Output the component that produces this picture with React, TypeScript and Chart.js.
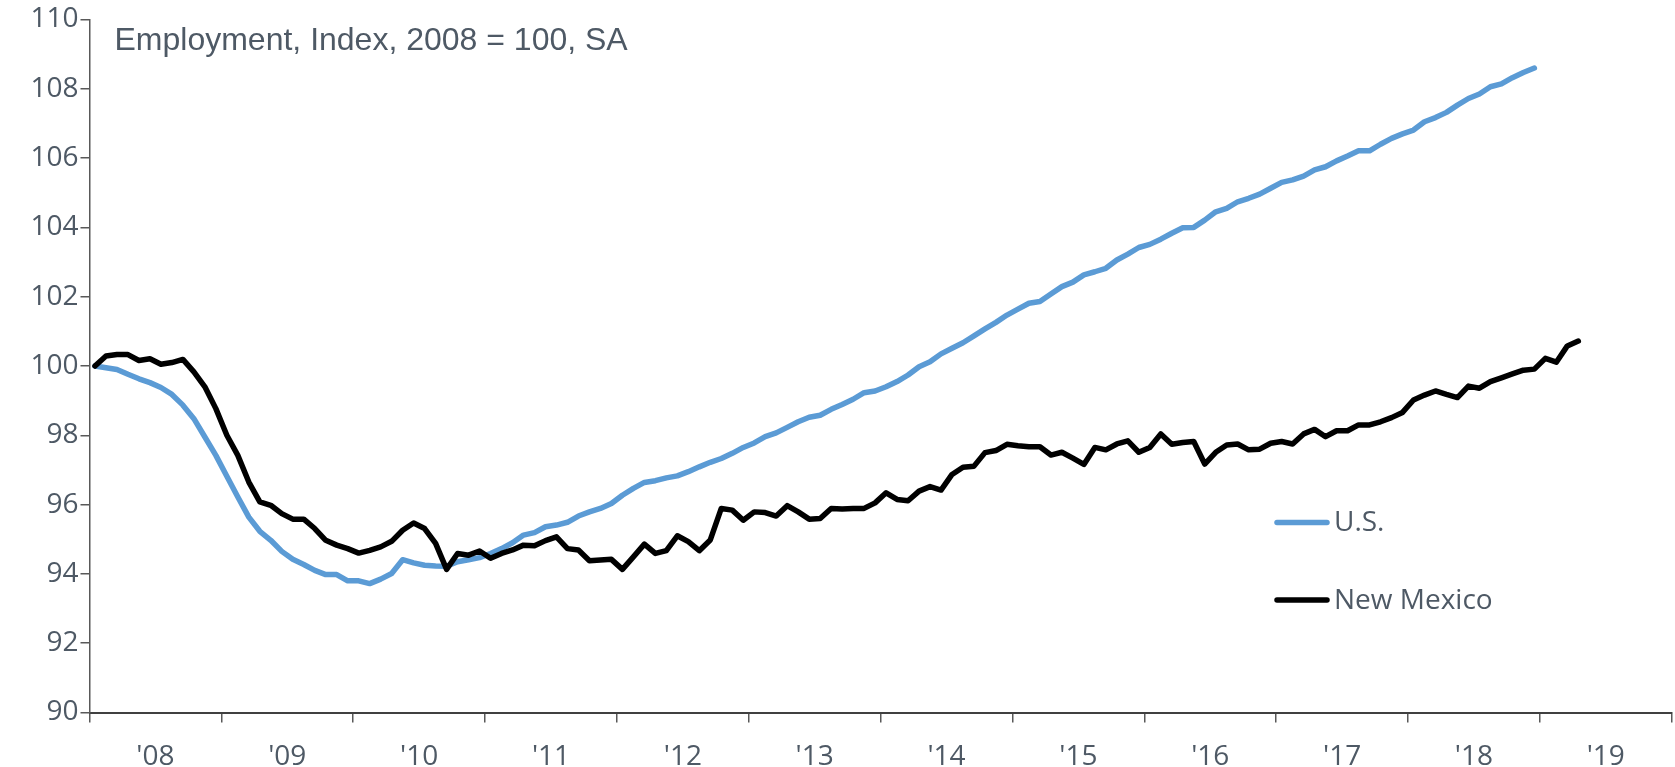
import React, { useEffect, useRef } from "react";
import { Chart, registerables } from "chart.js";

Chart.register(...registerables);

const yearLabels = ["'08", "'09", "'10", "'11", "'12", "'13", "'14", "'15", "'16", "'17", "'18", "'19"];
const seriesNames = ["U.S.", "New Mexico"];
const chartTitle = "Employment, Index, 2008 = 100, SA";

// Monthly index, Jan 2008 = 100
const usValues = [
  100.0, 99.95, 99.9, 99.76, 99.63, 99.52, 99.38, 99.18, 98.87, 98.48, 97.95, 97.42,
  96.82, 96.22, 95.64, 95.23, 94.97, 94.65, 94.42, 94.27, 94.1, 93.98, 93.98, 93.8,
  93.8, 93.72, 93.85, 94.01, 94.41, 94.32, 94.25, 94.23, 94.22, 94.35, 94.41, 94.47,
  94.59, 94.73, 94.9, 95.12, 95.19, 95.36, 95.41, 95.49, 95.67, 95.79, 95.89, 96.03,
  96.27, 96.47, 96.64, 96.69, 96.77, 96.83, 96.95, 97.09, 97.22, 97.33, 97.48, 97.65,
  97.78, 97.96, 98.07, 98.23, 98.39, 98.52, 98.58, 98.75, 98.89, 99.04, 99.23, 99.28,
  99.4, 99.55, 99.74, 99.98, 100.12, 100.35, 100.51, 100.67, 100.87, 101.07, 101.26, 101.47,
  101.64, 101.81, 101.86, 102.08, 102.29, 102.42, 102.63, 102.72, 102.82, 103.06, 103.23, 103.42,
  103.51, 103.66, 103.83, 103.99, 104.0, 104.21, 104.45, 104.55, 104.74, 104.84, 104.96, 105.13,
  105.3, 105.37, 105.48, 105.66, 105.75, 105.92, 106.06, 106.21, 106.21, 106.4, 106.57, 106.7,
  106.81, 107.05, 107.17, 107.32, 107.53, 107.72, 107.85, 108.06, 108.14, 108.32, 108.47, 108.6,
];

const nmValues = [
  100.0, 100.29, 100.33, 100.33, 100.16, 100.21, 100.05, 100.1, 100.19, 99.83, 99.4, 98.77,
  98.0, 97.42, 96.65, 96.08, 95.98, 95.74, 95.58, 95.58, 95.31, 94.97, 94.83, 94.73,
  94.6, 94.68, 94.78, 94.94, 95.26, 95.47, 95.31, 94.88, 94.13, 94.59, 94.54, 94.66,
  94.45, 94.59, 94.69, 94.83, 94.81, 94.96, 95.07, 94.73, 94.69, 94.38, 94.4, 94.42,
  94.13, 94.49, 94.86, 94.59, 94.67, 95.1, 94.93, 94.67, 94.98, 95.89, 95.84, 95.55,
  95.79, 95.77, 95.67, 95.97, 95.79, 95.58, 95.6, 95.89, 95.87, 95.89, 95.89, 96.05,
  96.34, 96.15, 96.11, 96.39, 96.52, 96.42, 96.87, 97.08, 97.11, 97.5, 97.56, 97.74,
  97.7, 97.67, 97.67, 97.43, 97.51, 97.34, 97.16, 97.65, 97.58, 97.75, 97.84, 97.51,
  97.65, 98.04, 97.74, 97.79, 97.82, 97.17, 97.51, 97.72, 97.75, 97.58, 97.6, 97.77,
  97.82, 97.75, 98.04, 98.17, 97.96, 98.13, 98.13, 98.3, 98.3, 98.39, 98.51, 98.66,
  99.02, 99.16, 99.28, 99.18, 99.09, 99.42, 99.36, 99.55, 99.66, 99.77, 99.88, 99.91,
  100.22, 100.11, 100.58, 100.72,
];

const yMin = 90;
const yMax = 110;
const yStep = 2;

const TEXT = "#4E5965";
const AXIS = "#595959";
const MONTHS = yearLabels.length * 12;

const toPoints = (vals: number[]) => vals.map((v, i) => ({ x: i, y: v }));

const titlePlugin = {
  id: "cornerTitle",
  afterDraw(chart: any) {
    const ctx = chart.ctx;
    ctx.save();
    ctx.font = "32px 'Liberation Sans', Arial, sans-serif";
    ctx.fillStyle = TEXT;
    ctx.textBaseline = "alphabetic";
    ctx.textAlign = "left";
    ctx.fillText(chartTitle, chart.chartArea.left + 25, 50);
    ctx.restore();
  },
};

const legendPlugin = {
  id: "insideLegend",
  afterDraw(chart: any) {
    const ctx = chart.ctx;
    const rows = [522.5, 600];
    ctx.save();
    ctx.font = "28px 'Open Sans', sans-serif";
    ctx.textBaseline = "middle";
    ctx.textAlign = "left";
    chart.data.datasets.forEach((ds: any, k: number) => {
      const y = rows[k];
      ctx.strokeStyle = ds.borderColor;
      ctx.lineWidth = 5.5;
      ctx.lineCap = "round";
      ctx.beginPath();
      ctx.moveTo(1277, y);
      ctx.lineTo(1327, y);
      ctx.stroke();
      ctx.fillStyle = TEXT;
      ctx.fillText(ds.label, 1334, y + 1);
    });
    ctx.restore();
  },
};

export default function App() {
  const ref = useRef<HTMLCanvasElement>(null);

  useEffect(() => {
    const canvas = ref.current;
    if (!canvas) return;
    const chart = new Chart(canvas, {
      type: "line",
      data: {
        datasets: [
          {
            label: seriesNames[0],
            data: toPoints(usValues),
            borderColor: "#5B9BD5",
            backgroundColor: "#5B9BD5",
            borderWidth: 5.5,
            pointRadius: 0,
            tension: 0,
            borderJoinStyle: "round",
            borderCapStyle: "round",
            order: 1,
          },
          {
            label: seriesNames[1],
            data: toPoints(nmValues),
            borderColor: "#000000",
            backgroundColor: "#000000",
            borderWidth: 5.5,
            pointRadius: 0,
            tension: 0,
            borderJoinStyle: "round",
            borderCapStyle: "round",
            order: 0,
          },
        ],
      },
      options: {
        animation: false,
        responsive: false,
        events: [],
        layout: { padding: { top: 19.5, right: 3.3, bottom: 0, left: 0 } },
        plugins: {
          legend: { display: false },
          tooltip: { enabled: false },
          title: { display: false },
        },
        scales: {
          x: {
            type: "linear",
            position: "bottom",
            min: -0.5,
            max: MONTHS - 0.5,
            weight: 0,
            afterBuildTicks: (scale: any) => {
              scale.ticks = yearLabels
                .concat([""])
                .map((_, k) => ({ value: k * 12 - 0.5 }));
            },
            ticks: { display: false },
            grid: {
              drawOnChartArea: false,
              drawTicks: true,
              tickLength: 10,
              color: AXIS,
              tickColor: AXIS,
              lineWidth: 1.5,
            },
            border: { display: true, color: "#404040", width: 2 },
          },
          x2: {
            type: "linear",
            position: "bottom",
            min: -0.5,
            max: MONTHS - 0.5,
            weight: 1,
            afterBuildTicks: (scale: any) => {
              scale.ticks = yearLabels.map((_, k) => ({ value: k * 12 + 5.5 }));
            },
            afterFit: (scale: any) => {
              scale.height = 44.5;
            },
            ticks: {
              autoSkip: false,
              maxRotation: 0,
              minRotation: 0,
              padding: 18,
              color: TEXT,
              font: { family: "'Open Sans', sans-serif", size: 28 },
              callback: (_v: any, index: number) => yearLabels[index],
            },
            grid: { display: false, drawTicks: false },
            border: { display: false },
          },
          y: {
            type: "linear",
            min: yMin,
            max: yMax,
            afterFit: (scale: any) => {
              scale.width = 89.5;
            },
            ticks: {
              stepSize: yStep,
              padding: 2,
              color: TEXT,
              font: { family: "'Open Sans', sans-serif", size: 28 },
            },
            grid: {
              drawOnChartArea: false,
              drawTicks: true,
              tickLength: 9,
              color: AXIS,
              tickColor: AXIS,
              lineWidth: 1.5,
            },
            border: { display: true, color: AXIS, width: 1.5 },
          },
        },
      },
      plugins: [titlePlugin, legendPlugin],
    } as any);
    return () => chart.destroy();
  }, []);

  return (
    <div style={{ position: "fixed", left: 0, top: 0, width: 1675, height: 767, background: "#fff" }}>
      <canvas ref={ref} width={1675} height={767} style={{ display: "block" }} />
    </div>
  );
}
